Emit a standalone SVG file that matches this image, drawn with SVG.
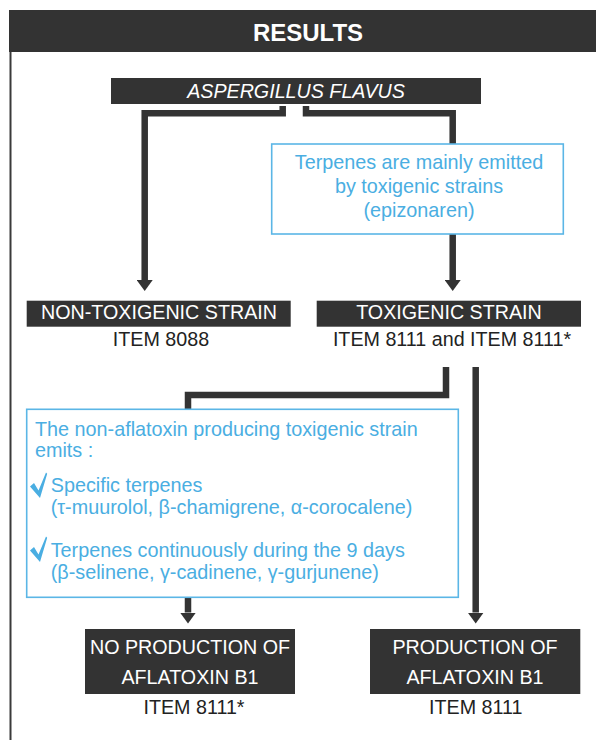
<svg xmlns="http://www.w3.org/2000/svg" width="596" height="740" viewBox="0 0 596 740">
<style>
.dark{fill:#333333}
.wt{fill:#ffffff;font-family:"Liberation Sans",Arial,sans-serif;font-size:19.7px;text-anchor:middle}
.lb{fill:#222222;font-family:"Liberation Sans",Arial,sans-serif;font-size:19.7px;text-anchor:middle}
.bt{fill:#4aaee2;font-family:"Liberation Sans",Arial,sans-serif;font-size:19.8px}
.bbox{fill:#ffffff;stroke:#5bb6e6;stroke-width:1.6}
.conn{fill:none;stroke:#333333;stroke-width:6.5;stroke-linejoin:miter;stroke-linecap:butt}
.chk{fill:#4aaee2}
</style>
<defs>
<marker id="arr" viewBox="0 0 11 16" refX="0" refY="8" markerWidth="11" markerHeight="16" markerUnits="userSpaceOnUse" orient="auto">
<path d="M0,0 L11,8 L0,16 Z" fill="#333333"/>
</marker>
</defs>
<rect x="0" y="0" width="596" height="740" fill="#ffffff"/>
<g id="frame">
<line x1="10.5" y1="50" x2="10.5" y2="740" stroke="#3a3a3a" stroke-width="2"/>
<rect class="dark" x="9" y="10" width="587" height="42"/>
<text x="308" y="41" fill="#ffffff" font-family="Liberation Sans, Arial, sans-serif" font-size="24" font-weight="bold" text-anchor="middle">RESULTS</text>
</g>
<g id="connectors">
<path class="conn" d="M282.7,106 V113.3 H144.7 V280" marker-end="url(#arr)"/>
<path class="conn" d="M306,106 V113.3 H452.7 V280" marker-end="url(#arr)"/>
<path class="conn" d="M446,367 V395 H188 V612.5" marker-end="url(#arr)"/>
<path class="conn" d="M475.7,367 V612.5" marker-end="url(#arr)"/>
</g>
<g id="aspergillus">
<rect class="dark" x="111" y="78" width="370" height="26"/>
<text class="wt" x="296" y="97.5" font-style="italic">ASPERGILLUS FLAVUS</text>
</g>
<g id="note-terpenes">
<rect class="bbox" x="271.7" y="144" width="291.6" height="90"/>
<text class="bt" x="419" y="169" text-anchor="middle">Terpenes are mainly emitted</text>
<text class="bt" x="419" y="193" text-anchor="middle">by toxigenic strains</text>
<text class="bt" x="419" y="216.5" text-anchor="middle">(epizonaren)</text>
</g>
<g id="non-toxigenic">
<rect class="dark" x="26.7" y="300.7" width="264" height="26"/>
<text class="wt" x="159" y="319">NON-TOXIGENIC STRAIN</text>
<text class="lb" x="161" y="346">ITEM 8088</text>
</g>
<g id="toxigenic">
<rect class="dark" x="316.7" y="300.7" width="264.3" height="26"/>
<text class="wt" x="449" y="319">TOXIGENIC STRAIN</text>
<text class="lb" x="452" y="346">ITEM 8111 and ITEM 8111*</text>
</g>
<g id="note-non-aflatoxin">
<rect class="bbox" x="26.7" y="409.3" width="431.6" height="188"/>
<text class="bt" x="35" y="436">The non-aflatoxin producing toxigenic strain</text>
<text class="bt" x="35" y="457.3">emits :</text>
<path class="chk" d="M30,486.5 L34,483 L38.5,490.5 L46,472.5 L47.2,473.8 L40,498 Z"/>
<text class="bt" x="50.7" y="491.7">Specific terpenes</text>
<text class="bt" x="50.7" y="514">(τ-muurolol, β-chamigrene, α-corocalene)</text>
<path class="chk" d="M30,550.5 L34,547 L38.5,554.5 L46,536.5 L47.2,537.8 L40,562 Z"/>
<text class="bt" x="50.7" y="557">Terpenes continuously during the 9 days</text>
<text class="bt" x="50.7" y="579">(β-selinene, γ-cadinene, γ-gurjunene)</text>
</g>
<g id="no-production">
<rect class="dark" x="85" y="629" width="210" height="65"/>
<text class="wt" x="190" y="654">NO PRODUCTION OF</text>
<text class="wt" x="190" y="684">AFLATOXIN B1</text>
<text class="lb" x="194" y="714">ITEM 8111*</text>
</g>
<g id="production">
<rect class="dark" x="370" y="629" width="210.3" height="65"/>
<text class="wt" x="475" y="654">PRODUCTION OF</text>
<text class="wt" x="475" y="684">AFLATOXIN B1</text>
<text class="lb" x="475.7" y="714">ITEM 8111</text>
</g>
</svg>
